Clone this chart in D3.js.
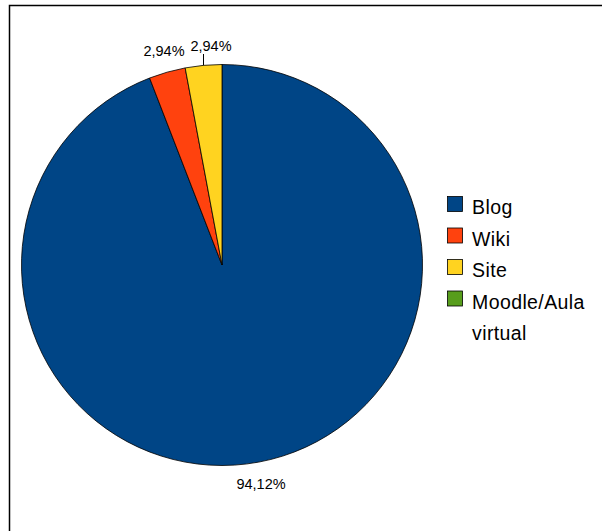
<!DOCTYPE html>
<html><head><meta charset="utf-8">
<script src="https://cdn.jsdelivr.net/npm/d3@7"></script>
<style>body{margin:0;background:#fff}svg{display:block}text{font-family:"Liberation Sans",Arial,sans-serif;fill:#000}</style>
</head><body>
<svg id="c" width="602" height="531"></svg>
<script>
const categories = ["Blog", "Wiki", "Site", "Moodle/Aula virtual"];
const values = [94.12, 2.94, 2.94, 0];
const labels = ["94,12%", "2,94%", "2,94%", ""];
const colors = ["#004586", "#ff420e", "#ffd320", "#579d1c"];

const svg = d3.select("#c");
svg.append("path").attr("d", "M9.5,540V5.5H610").attr("fill","none").attr("stroke","#000").attr("stroke-width",1.5);

const cx = 222, cy = 265, R = 200.5;
const pie = d3.pie().sort(null).value(d => d)(values);
const arc = d3.arc().innerRadius(0).outerRadius(R);
const g = svg.append("g").attr("transform", `translate(${cx},${cy})`);
g.selectAll("path").data(pie.filter(d => d.value > 0)).join("path")
  .attr("d", arc).attr("fill", (d) => colors[d.index]).attr("stroke", "#000").attr("stroke-width", 0.8);

// labels
const lab = svg.append("g").style("font-size", "14.5px");
lab.append("text").attr("x", 261).attr("y", 489).attr("text-anchor","middle").text(labels[0]);
lab.append("text").attr("x", 164).attr("y", 56).attr("text-anchor","middle").text(labels[1]);
lab.append("text").attr("x", 211).attr("y", 51).attr("text-anchor","middle").text(labels[2]);
// leader line for Site label
const a = (pie[2].startAngle + pie[2].endAngle)/2;
svg.append("line").attr("x1", cx + Math.sin(a)*R).attr("x2", cx + Math.sin(a)*R)
  .attr("y1", 54).attr("y2", cy - Math.cos(a)*R).attr("stroke","#000").attr("stroke-width",1);

// legend
const y0 = 196, dy = 31.5;
const leg = svg.append("g");
categories.forEach((c, i) => {
  const yy = y0 + i*dy;
  leg.append("rect").attr("x", 447.5).attr("y", yy + 0.5).attr("width", 15).attr("height", 15)
    .attr("fill", colors[i]).attr("stroke", "#000").attr("stroke-width", 0.8);
  const words = c === "Moodle/Aula virtual" ? ["Moodle/Aula", "virtual"] : [c];
  words.forEach((w, j) => {
    leg.append("text").attr("x", 472).attr("y", yy + 18 + j*31.5).style("font-size","19.5px")
      .style("letter-spacing", "0.4px").text(w);
  });
});
</script>
</body></html>
